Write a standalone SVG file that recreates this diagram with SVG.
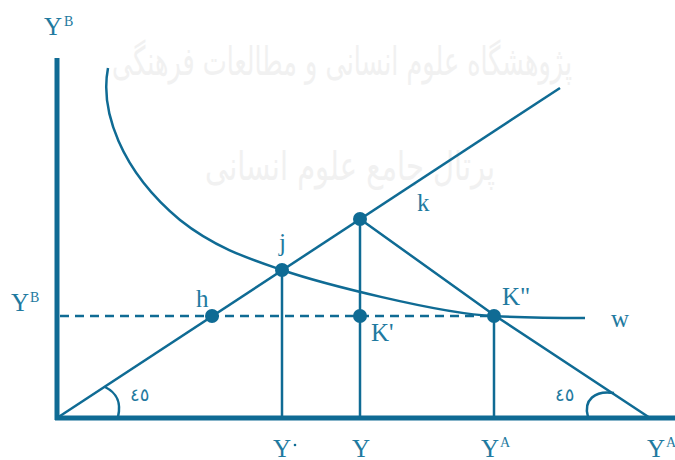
<svg xmlns="http://www.w3.org/2000/svg" width="675" height="460" viewBox="0 0 675 460">
<style>
.ln{stroke:#0f6b94;stroke-width:2.5;fill:none}
.ax{stroke:#0f6b94;stroke-width:5;fill:none}
.dot{fill:#0f6b94}
.lb{font-family:"Liberation Serif",serif;fill:#1f7aa0;font-size:25px}
.sup{font-family:"Liberation Serif",serif;fill:#1f7aa0;font-size:14px}
.fa{font-family:"DejaVu Sans",sans-serif;fill:#1f7aa0;font-size:18px}
.wm{font-family:"DejaVu Sans","Noto Sans",sans-serif;fill:#f1f1f1;font-size:40px}
</style>
<rect width="675" height="460" fill="#ffffff"/>
<g id="watermark">
<text class="wm" x="342" y="75" text-anchor="middle" textLength="460" lengthAdjust="spacingAndGlyphs" direction="rtl">پژوهشگاه علوم انسانی و مطالعات فرهنگی</text>
<text class="wm" x="350" y="180" text-anchor="middle" textLength="290" lengthAdjust="spacingAndGlyphs" direction="rtl">پرتال جامع علوم انسانی</text>
</g>
<g id="connectors">
<line class="ax" x1="57" y1="58" x2="57" y2="420"/>
<line class="ax" x1="55" y1="418" x2="675" y2="418"/>
<line class="ln" x1="57" y1="418" x2="560" y2="88"/>
<polyline class="ln" points="360,219 494,315 650,418"/>
<line class="ln" x1="282" y1="270" x2="282" y2="418"/>
<line class="ln" x1="360" y1="219" x2="360" y2="418"/>
<line class="ln" x1="494" y1="316" x2="494" y2="418"/>
<line class="ln" x1="60" y1="316" x2="494" y2="316" stroke-dasharray="9,6" stroke-width="3"/>
<path class="ln" d="M108,68 C100,110 120,170 180,220 C215,248 250,259 282,270 C320,283 440,314 494,316 C530,318 560,318 585,318"/>
<path class="ln" d="M118,417 C122,400 115,392 105,387"/>
<path class="ln" d="M588,417 C583,400 595,390 614,393"/>
</g>
<g id="h"><circle class="dot" cx="212" cy="316" r="7"/><text class="lb" x="196" y="307">h</text></g>
<g id="j"><circle class="dot" cx="282" cy="270" r="7"/><text class="lb" x="279" y="251">j</text></g>
<g id="k"><circle class="dot" cx="360" cy="219" r="7" fill="#1f7aa0"/><text class="lb" x="417" y="211">k</text></g>
<g id="Kp"><circle class="dot" cx="360" cy="316" r="7"/><text class="lb" x="371" y="341">K'</text></g>
<g id="Kpp"><circle class="dot" cx="494" cy="316" r="7"/><text class="lb" x="502" y="305">K"</text></g>
<g id="w"><text class="lb" x="611" y="327" font-size="22">w</text></g>
<g id="labels">
<text class="lb" x="44" y="35">Y</text><text class="sup" x="64" y="26">B</text>
<text class="lb" x="11" y="311">Y</text><text class="sup" x="30" y="302">B</text>
<text class="lb" x="273" y="457">Y</text><circle class="dot" cx="295" cy="445" r="1.3" fill="#1f7aa0"/>
<text class="lb" x="352" y="457">Y</text>
<text class="lb" x="481" y="457">Y</text><text class="sup" x="500" y="447">A</text>
<text class="lb" x="647" y="457">Y</text><text class="sup" x="666" y="447">A</text>
<text class="fa" x="130" y="401">٤٥</text>
<text class="fa" x="555" y="401">٤٥</text>
</g>
</svg>
